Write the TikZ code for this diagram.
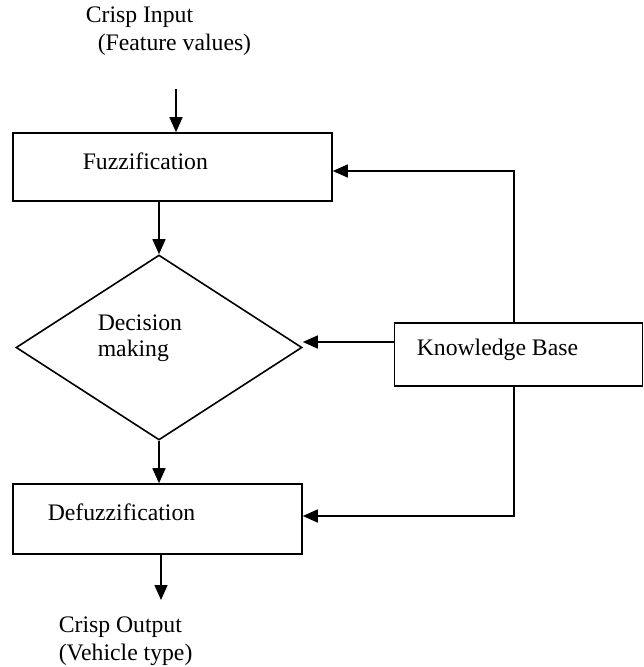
\documentclass[tikz,border=0pt]{standalone}
\usepackage{fontspec}
\setmainfont{Liberation Serif}
\usetikzlibrary{shapes.geometric,arrows.meta}
\begin{document}
\begin{tikzpicture}[x=1pt,y=-1pt,
  line width=1.6pt,
  arr/.style={-{Triangle[length=15pt,width=13pt]}},
  box/.style={draw, rectangle, inner sep=0pt},
  txt/.style={inner sep=0pt, anchor=west, font=\fontsize{23.7}{28}\selectfont},
]
\useasboundingbox (0,0) rectangle (644,667);

% boxes
\node[box, minimum width=319pt, minimum height=68pt] (fuzz) at (172.5,167) {};
\node[draw, diamond, inner sep=0pt, minimum width=286pt, minimum height=185pt] (dm) at (159,347.5) {};
\node[box, minimum width=289pt, minimum height=70pt] (defuzz) at (157.5,519) {};
\node[box, minimum width=248pt, minimum height=63pt] (kb) at (518.5,354.5) {};

% texts
\node[txt] (tin1) at (85,17) {Crisp Input};
\node[txt] (tin2) at (97,45) {(Feature values)};
\node[txt] (tfuzz) at (82,161) {Fuzzification};
\node[txt] (tdm1) at (97,323) {Decision};
\node[txt] (tdm2) at (97,351) {making};
\node[txt] (tkb) at (416,350) {Knowledge Base};
\node[txt] (tdef) at (47,512) {Defuzzification};
\node[txt] (tout1) at (58,627) {Crisp Output};
\node[txt] (tout2) at (58,655) {(Vehicle type)};

% coordinates
\coordinate (inTop) at (176,89);
\coordinate (k1) at (514,171);
\coordinate (k2) at (514,342);
\coordinate (k3) at (514,516);
\coordinate (outEnd) at (161,600);

% connectors
\draw[arr] (inTop) -- (inTop |- fuzz.north);
\draw[arr] (dm.north |- fuzz.south) -- (dm.north);
\draw[arr] (dm.south) -- (dm.south |- defuzz.north);
\draw[arr] (outEnd |- defuzz.south) -- (outEnd);
\draw[arr] (k1 |- kb.north) -- (k1) -- (k1 -| fuzz.east);
\draw[arr] (k2 -| kb.west) -- (k2 -| dm.east);
\draw[arr] (k3 |- kb.south) -- (k3) -- (k3 -| defuzz.east);
\end{tikzpicture}
\end{document}
